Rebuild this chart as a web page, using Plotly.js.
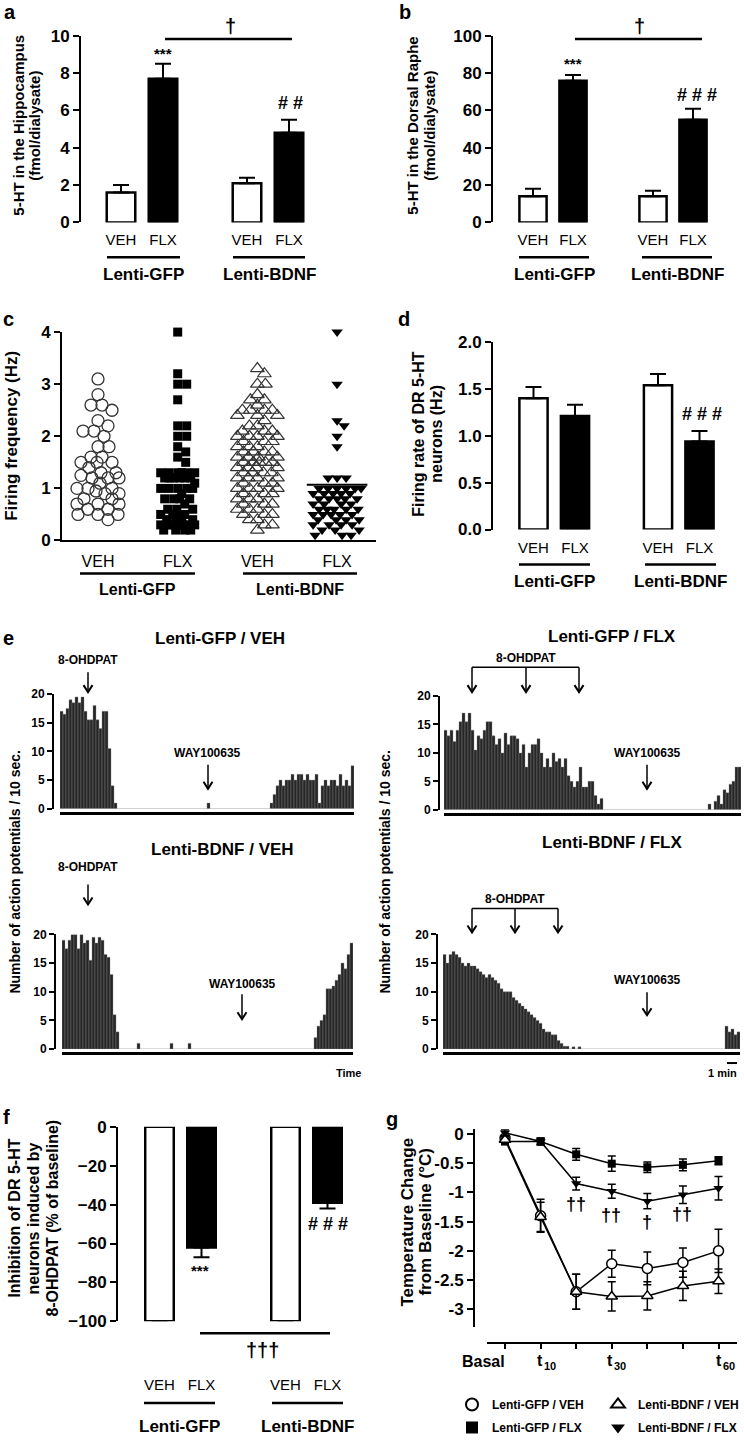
<!DOCTYPE html>
<html><head><meta charset="utf-8">
<script src="https://cdn.plot.ly/plotly-3.0.1.min.js"></script>
<style>html,body{margin:0;padding:0;background:#fff;}#chart{width:744px;height:1442px;}</style>
</head><body><div id="chart"></div>
<script>
// ================= DATA =================
const groupLabels = ['Lenti-GFP', 'Lenti-BDNF'];
const barCategories = ['VEH', 'FLX', 'VEH', 'FLX'];

// (a) 5-HT in hippocampus (fmol/dialysate)
const hippoMean = [1.6, 7.7, 2.1, 4.8];
const hippoSem = [0.4, 0.8, 0.3, 0.7];

// (b) 5-HT in dorsal raphe (fmol/dialysate)
const raphMean = [14, 76, 14, 55];
const raphSem = [4, 3, 3, 6];

// (c) firing frequency of individual neurons (Hz)
const cVehGfp = [3.1, 2.8, 2.6, 2.6, 2.5, 2.3, 2.2, 2.1, 2.1, 2.0, 1.8, 1.8, 1.6, 1.6, 1.5, 1.5, 1.5, 1.4, 1.3, 1.3, 1.25, 1.2, 1.2, 1.2, 1.1, 1.0, 1.0, 1.0, 0.95, 0.9, 0.9, 0.8, 0.8, 0.7, 0.7, 0.7, 0.6, 0.6, 0.5, 0.5, 0.5, 0.4];
const cFlxGfp = [4.0, 3.2, 3.0, 3.0, 2.7, 2.2, 2.2, 2.0, 2.0, 1.8, 1.7, 1.6, 1.5, 1.3, 1.3, 1.3, 1.3, 1.3, 1.3, 1.2, 1.2, 1.2, 1.2, 1.2, 1.2, 1.1, 1.0, 1.0, 1.0, 1.0, 1.0, 0.9, 0.8, 0.8, 0.8, 0.8, 0.7, 0.6, 0.6, 0.6, 0.5, 0.5, 0.5, 0.5, 0.4, 0.4, 0.4, 0.4, 0.3, 0.3, 0.3, 0.3, 0.3, 0.3, 0.3, 0.2, 0.2, 0.2, 0.2];
const cVehBdnf = [3.3, 3.2, 3.0, 3.0, 2.8, 2.7, 2.7, 2.6, 2.5, 2.5, 2.5, 2.5, 2.4, 2.4, 2.4, 2.3, 2.2, 2.2, 2.1, 2.1, 2.1, 2.0, 2.0, 2.0, 2.0, 1.9, 1.9, 1.9, 1.8, 1.8, 1.8, 1.7, 1.7, 1.7, 1.7, 1.6, 1.6, 1.6, 1.6, 1.5, 1.5, 1.5, 1.5, 1.5, 1.4, 1.4, 1.4, 1.4, 1.3, 1.3, 1.3, 1.3, 1.2, 1.2, 1.2, 1.2, 1.1, 1.1, 1.1, 1.0, 1.0, 1.0, 1.0, 0.9, 0.9, 0.9, 0.8, 0.8, 0.8, 0.7, 0.7, 0.7, 0.6, 0.6, 0.6, 0.5, 0.5, 0.5, 0.4, 0.4, 0.3, 0.3, 0.2];
const cFlxBdnf = [4.0, 3.0, 2.3, 2.2, 2.0, 1.8, 1.2, 1.2, 1.2, 1.0, 1.0, 1.0, 1.0, 1.0, 1.0, 0.9, 0.9, 0.9, 0.9, 0.9, 0.8, 0.8, 0.8, 0.8, 0.8, 0.7, 0.7, 0.7, 0.7, 0.6, 0.6, 0.6, 0.6, 0.6, 0.5, 0.5, 0.5, 0.5, 0.5, 0.4, 0.4, 0.4, 0.4, 0.3, 0.3, 0.3, 0.3, 0.2, 0.2, 0.2, 0.1, 0.1, 0.1];
const cFlxBdnfLine = 1.07;

// (d) firing rate of DR 5-HT neurons (Hz)
const rateMean = [1.40, 1.21, 1.54, 0.94];
const rateSem = [0.12, 0.12, 0.12, 0.11];

// (e) action potentials per 10-s bin
const histTitles = ['Lenti-GFP / VEH', 'Lenti-GFP / FLX', 'Lenti-BDNF / VEH', 'Lenti-BDNF / FLX'];
const histGfpVeh = [17, 16.5, 17.5, 19, 18.5, 19.5, 18.5, 19.5, 17, 15.5, 15.5, 18, 15.5, 14, 17, 17, 10.5, 4, 1,
  0, 0, 0, 0, 0, 0, 0, 0, 0, 0, 0, 0, 0, 0, 0, 0, 0, 0, 0, 0, 0, 0, 0, 0, 0, 0, 0, 0, 0, 0,
  1,
  0, 0, 0, 0, 0, 0, 0, 0, 0, 0, 0, 0, 0, 0, 0, 0, 0, 0, 0, 0,
  1, 2.5, 4, 5, 4, 5, 5, 6, 5, 6, 6, 5, 6, 5, 5, 6, 1, 4, 5, 4, 5, 5, 4, 6, 4, 5, 4, 7.5];
const histGfpFlx = [14, 13, 14, 12, 14, 15.5, 17, 15.5, 17, 14, 10.5, 13, 12.5, 14, 15.5, 15.5, 13, 11.5, 12.5, 10,
  13.5, 11.5, 13, 13, 12.5, 10, 11.5, 7.5, 10, 11.5, 11.5, 12.5, 10, 7.5, 9, 7.5, 10, 8.5, 9, 7.5,
  9, 6, 5, 4, 5, 7.5, 4, 4, 5, 5, 2.5, 1, 2,
  0, 0, 0, 0, 0, 0, 0, 0, 0, 0, 0, 0, 0, 0, 0, 0, 0, 0, 0, 0, 0, 0, 0, 0, 0, 0, 0, 0, 0, 0, 0, 0, 0, 0, 0,
  1, 0, 1.5, 2.5, 1, 3.5, 3, 4.5, 5, 7.5, 7.5];
const histBdnfVeh = [19, 17.5, 19, 20, 20, 17.5, 20, 18.5, 19, 15.5, 19.5, 18.5, 19.5, 19, 16.5, 16, 13, 6, 3,
  0, 0, 0, 0, 0, 0, 1, 0, 0, 0, 0, 0, 0, 0, 0, 0, 0, 1, 0, 0, 0, 0, 0, 1,
  0, 0, 0, 0, 0, 0, 0, 0, 0, 0, 0, 0, 0, 0, 0, 0, 0, 0, 0, 0, 0, 0, 0, 0, 0, 0, 0, 0, 0, 0, 0, 0, 0, 0, 0, 0, 0, 0, 0, 0, 0,
  2, 4, 5, 6, 10.5, 10.5, 11, 12, 13, 15, 14, 16.5, 18.5];
const histBdnfFlx = [16.5, 15, 16.5, 17, 16.5, 16, 15, 14.5, 15, 14.5, 14.5, 14, 13.5, 13, 12.5, 13, 12.5, 12, 11.5, 10.5,
  10, 10, 10, 9, 8.5, 8, 7.5, 7, 6.5, 6, 5.5, 5, 4.5, 3.5, 3, 3, 2.5, 2.5, 1.5, 1, 0.5, 0.5,
  0, 0.4, 0, 0.4,
  0, 0, 0, 0, 0, 0, 0, 0, 0, 0, 0, 0, 0, 0, 0, 0, 0, 0, 0, 0, 0, 0, 0, 0, 0, 0, 0, 0, 0, 0, 0, 0, 0, 0, 0, 0, 0, 0, 0, 0, 0, 0, 0, 0, 0, 0, 0, 0,
  4, 3, 3.5, 2.5, 3];

// (f) inhibition induced by 8-OHDPAT (% of baseline)
const inhibMean = [-100, -62, -100, -39];
const inhibSem = [0, 5, 0, 3];

// (g) temperature change from baseline (°C)
const gTime = [0, 10, 20, 30, 40, 50, 60];
const gTimeSubs = ['10', '30', '60'];
const gNames = ['Lenti-GFP / VEH', 'Lenti-GFP / FLX', 'Lenti-BDNF / VEH', 'Lenti-BDNF / FLX'];
const gGfpVeh = [-0.07, -1.4, -2.7, -2.22, -2.3, -2.2, -2.0];
const gGfpVehErr = [0.05, 0.28, 0.3, 0.23, 0.28, 0.25, 0.37];
const gGfpFlx = [-0.13, -0.13, -0.35, -0.51, -0.57, -0.53, -0.46];
const gGfpFlxErr = [0.05, 0.06, 0.1, 0.13, 0.09, 0.1, 0.07];
const gBdnfVeh = [-0.1, -1.42, -2.7, -2.78, -2.77, -2.6, -2.52];
const gBdnfVehErr = [0.05, 0.25, 0.3, 0.25, 0.24, 0.25, 0.21];
const gBdnfFlx = [0.02, -0.13, -0.85, -0.98, -1.15, -1.04, -0.93];
const gBdnfFlxErr = [0.05, 0.05, 0.11, 0.12, 0.13, 0.15, 0.2];

// ================= LAYOUT HELPERS =================
const W = 744, H = 1442;
const FF = 'Arial, "Liberation Sans", Helvetica, sans-serif';
const PX = p => p / W, PY = p => 1 - p / H;
function dom(v0, p0, v1, p1, r0, r1, isY) {
  const s = (p1 - p0) / (v1 - v0);
  const a = p0 + (r0 - v0) * s, b = p0 + (r1 - v0) * s;
  const lo = Math.min(a, b), hi = Math.max(a, b);
  return isY ? [1 - hi / H, 1 - lo / H] : [lo / W, hi / W];
}
const bold = s => ({family: FF, size: s, color: '#000', weight: 'bold'});
const reg = s => ({family: FF, size: s, color: '#000'});
const barPos = [0, 1, 3, 4];
const barFills = ['#ffffff', '#000000', '#ffffff', '#000000'];

const layout = {width: W, height: H, margin: {l: 0, r: 0, t: 0, b: 0}, paper_bgcolor: '#fff',
  plot_bgcolor: 'rgba(0,0,0,0)', bargap: 0, showlegend: true, annotations: [], shapes: [],
  font: {family: FF, color: '#000'}, hovermode: false};
const traces = [];
const sfx = n => n === 1 ? '' : String(n);

function yAxis(range, v0, p0, v1, p1, posX, dtick, fs, extra) {
  return Object.assign({range, domain: dom(v0, p0, v1, p1, range[0], range[1], true), anchor: 'free',
    position: PX(posX), showline: true, linewidth: 2, linecolor: '#000', ticks: 'outside', ticklen: 6,
    tickwidth: 2, tickcolor: '#000', dtick, tick0: 0, showgrid: false, zeroline: false,
    tickfont: bold(fs), fixedrange: true}, extra || {});
}
function catXAxis(p0, p1, labelPos, fs) {
  return {range: [-1, 5], domain: dom(0, p0, 1, p1, -1, 5, false), anchor: 'free', position: PY(labelPos),
    showline: false, zeroline: false, showgrid: false, tickmode: 'array', tickvals: barPos,
    ticktext: barCategories, ticks: '', tickfont: reg(fs), fixedrange: true};
}
function hline(x0, x1, y, w) {
  return {type: 'line', xref: 'paper', yref: 'paper', x0: PX(x0), x1: PX(x1), y0: PY(y), y1: PY(y),
    line: {color: '#000', width: w || 2.5}};
}
function ann(text, x, y, size, opts) {
  return Object.assign({text, x: PX(x), y: PY(y), xref: 'paper', yref: 'paper', showarrow: false,
    xanchor: 'center', yanchor: 'middle', font: bold(size)}, opts || {});
}
// rotated multi-line title: one annotation per line
function vtitle(lines, xs, y, size) {
  lines.forEach((t, i) => layout.annotations.push(ann(t, xs[i], y, size, {textangle: -90})));
}
// down-pointing arrow drawn as a stem plus an open chevron head
function arrow(x, yTail, yTip) {
  const head = 'M' + PX(x - 4.5) + ',' + PY(yTip - 7) + ' L' + PX(x) + ',' + PY(yTip) + ' L' + PX(x + 4.5) + ',' + PY(yTip - 7);
  layout.shapes.push(
    {type: 'line', xref: 'paper', yref: 'paper', x0: PX(x), x1: PX(x), y0: PY(yTail), y1: PY(yTip), line: {color: '#000', width: 1.5}},
    {type: 'path', xref: 'paper', yref: 'paper', path: head, line: {color: '#000', width: 2}}
  );
}
function groups(x1a, x1b, x2a, x2b, yLine, yText, fs) {
  layout.shapes.push(hline(x1a, x1b, yLine), hline(x2a, x2b, yLine));
  layout.annotations.push(ann(groupLabels[0], (x1a + x1b) / 2, yText, fs), ann(groupLabels[1], (x2a + x2b) / 2, yText, fs));
}
function barPanel(n, vals, sem, down, yax, xax) {
  layout['xaxis' + sfx(n)] = xax;
  layout['yaxis' + sfx(n)] = yax;
  const zeros = vals.map(() => 0);
  traces.push({type: 'bar', x: barPos, y: vals, xaxis: 'x' + sfx(n), yaxis: 'y' + sfx(n), width: 0.68,
    marker: {color: barFills, line: {color: '#000', width: 2.5}},
    error_y: {type: 'data', symmetric: false, array: down ? zeros : sem, arrayminus: down ? sem : zeros,
      color: '#000', thickness: 2, width: 8},
    showlegend: false, hoverinfo: 'skip', cliponaxis: false});
}

// ================= (a) =================
barPanel(1, hippoMean, hippoSem, false, yAxis([0, 10], 0, 223, 10, 36, 80, 2, 17), catXAxis(121, 163, 230, 15));
layout.annotations.push(ann('a', 10, 12, 20), ann('***', 163, 54, 15), ann('# #', 290, 103, 18), ann('†', 230, 26, 20));
vtitle(['5-HT in the Hippocampus', '(fmol/dialysate)'], [19, 35], 126, 15);
layout.shapes.push(hline(165, 292, 39));
groups(107, 180, 233, 305, 258, 275, 17);

// ================= (b) =================
barPanel(2, raphMean, raphSem, false, yAxis([0, 100], 0, 223, 100, 36, 492, 20, 17), catXAxis(533, 573, 230, 15));
layout.annotations.push(ann('b', 405, 12, 20), ann('***', 573, 64, 15), ann('# # #', 697, 95, 18), ann('†', 639, 26, 20));
vtitle(['5-HT in the Dorsal Raphe', '(fmol/dialysate)'], [413, 430], 126, 15);
layout.shapes.push(hline(575, 702, 39));
groups(519, 589, 642, 712, 258, 275, 17);

// ================= (c) =================
const cPxPerY = (542 - 333) / 4, cPxPerX = 79.7;
layout.xaxis3 = {range: [(62 - 98) / cPxPerX, (376 - 98) / cPxPerX], domain: [PX(62), PX(376)], anchor: 'y3',
  showline: true, linewidth: 2, linecolor: '#000', ticks: 'outside', ticklen: 5, tickcolor: 'rgba(0,0,0,0)',
  tickmode: 'array', tickvals: [0, 1, 2, 3], ticktext: barCategories, tickfont: reg(16), showgrid: false,
  zeroline: false, fixedrange: true};
layout.yaxis3 = yAxis([0, 4], 0, 542, 4, 333, 62, 1, 17);
layout.yaxis3.anchor = 'x3';
delete layout.yaxis3.position;
// simple beeswarm: place each point at the nearest free offset, within a column width
function swarm(vals, center, D, maxHalf) {
  const order = vals.map((v, i) => i).sort((a, b) => vals[b] - vals[a]);
  const placed = [], xs = new Array(vals.length);
  for (const i of order) {
    const py = vals[i] * cPxPerY;
    let best = 0, bestScore = -1;
    for (let k = 0; ; k++) {
      const cand = (k % 2 === 1 ? 1 : -1) * Math.ceil(k / 2);
      if (Math.abs(cand) > maxHalf) break;
      const minD = placed.reduce((m, p) => Math.min(m, Math.hypot(p.x - cand, p.y - py)), Infinity);
      if (minD >= D) { best = cand; break; }
      if (minD > bestScore) { bestScore = minD; best = cand; }
    }
    placed.push({x: best, y: py});
    xs[i] = center + best / cPxPerX;
  }
  return xs;
}
const cSets = [
  {v: cVehGfp, c: 0, D: 11, half: 21, m: {symbol: 'circle-open', size: 12, color: '#333', line: {width: 1.3}}},
  {v: cFlxGfp, c: 1, D: 9, half: 17, m: {symbol: 'square', size: 9, color: '#000'}},
  {v: cVehBdnf, c: 2, D: 8, half: 20, m: {symbol: 'triangle-up-open', size: 12, color: '#333', line: {width: 1.2}}},
  {v: cFlxBdnf, c: 3, D: 8.5, half: 24, m: {symbol: 'triangle-down', size: 10, color: '#000'}}
];
cSets.forEach(s => traces.push({type: 'scatter', mode: 'markers', x: swarm(s.v, s.c, s.D, s.half), y: s.v,
  xaxis: 'x3', yaxis: 'y3', marker: s.m, showlegend: false, hoverinfo: 'skip', cliponaxis: false}));
traces.push({type: 'scatter', mode: 'lines', x: [2.62, 3.38], y: [cFlxBdnfLine, cFlxBdnfLine], xaxis: 'x3', yaxis: 'y3',
  line: {color: '#000', width: 2}, showlegend: false, hoverinfo: 'skip'});
layout.annotations.push(ann('c', 8, 320, 20), ann('Firing frequency (Hz)', 12, 437, 17, {textangle: -90}));
groups(80, 195, 243, 357, 575, 591, 16);

// ================= (d) =================
barPanel(4, rateMean, rateSem, false, yAxis([0, 2], 0, 531, 2, 343, 492, 0.5, 17, {tickformat: '.1f'}), catXAxis(533.5, 575, 538, 15));
layout.annotations.push(ann('d', 404, 320, 20), ann('# # #', 702, 415, 18));
vtitle(['Firing rate of DR 5-HT', 'neurons (Hz)'], [419, 437], 435, 16);
groups(519, 590, 645, 716, 566, 583, 17);

// ================= (e) =================
function histPanel(n, vals, yZero, yTop, posX, xStartPx, baseY) {
  const idx = vals.map((_, i) => i);
  const r = [-0.5, vals.length - 0.5];
  layout['xaxis' + n] = {range: r, domain: dom(0, xStartPx + 1.5, 1, xStartPx + 4.5, r[0], r[1], false),
    anchor: 'free', position: PY(baseY), showline: true, linewidth: 3, linecolor: '#000', ticks: '',
    showticklabels: false, showgrid: false, zeroline: false, fixedrange: true};
  layout['yaxis' + n] = yAxis([0, 20], 0, yZero, 20, yTop, posX, 5, 12, {ticklen: 5});
  traces.push({type: 'bar', x: idx, y: vals, xaxis: 'x' + n, yaxis: 'y' + n, width: 1,
    marker: {color: '#262626', line: {color: '#8a8a8a', width: 0.4}}, showlegend: false, hoverinfo: 'skip'});
}
histPanel(5, histGfpVeh, 811, 696, 53, 60, 815);
histPanel(6, histGfpFlx, 812, 698, 439, 444, 816);
histPanel(7, histBdnfVeh, 1052, 937, 55, 62, 1056);
histPanel(8, histBdnfFlx, 1052, 937, 437, 443, 1056);
layout.annotations.push(
  ann('e', 8, 640, 20),
  ann(histTitles[0], 220, 640, 17), ann(histTitles[1], 612, 638, 17),
  ann(histTitles[2], 222, 852, 17), ann(histTitles[3], 612, 845, 17),
  ann('8-OHDPAT', 88, 662, 12), ann('8-OHDPAT', 88, 869, 12),
  ann('8-OHDPAT', 526, 660, 12), ann('8-OHDPAT', 515, 901, 12),
  ann('WAY100635', 208, 755, 12), ann('WAY100635', 647, 755, 12),
  ann('WAY100635', 242, 987, 12), ann('WAY100635', 647, 983, 12),
  ann('Number of action potentials / 10 sec.', 15, 874, 14, {textangle: -90}),
  ann('Number of action potentials / 10 sec.', 385, 874, 14, {textangle: -90}),
  ann('Time', 348, 1076, 11), ann('1 min', 722, 1076, 11)
);
arrow(88, 674, 694); arrow(88, 887, 907);
arrow(472, 669, 694); arrow(526, 669, 694); arrow(579, 669, 694);
arrow(472, 911, 935); arrow(515, 911, 935); arrow(558, 911, 935);
arrow(208, 767, 791); arrow(647, 767, 791); arrow(242, 997, 1022); arrow(647, 995, 1018);
layout.shapes.push(hline(472, 579, 669, 1.5), hline(472, 558, 911, 1.5), hline(727, 737, 1066, 2));

// ================= (f) =================
barPanel(9, inhibMean, inhibSem, true, yAxis([-100, 0], 0, 1130, -100, 1325, 117, 20, 17), catXAxis(159.5, 201.5, 1378, 15));
layout.annotations.push(ann('f', 6, 1120, 20),
  ann('***', 200, 1274, 15), ann('# # #', 328, 1227, 18), ann('†††', 262, 1354, 20));
vtitle(['Inhibition of DR 5-HT', 'neurons induced by', '8-OHDPAT (% of baseline)'], [15, 34, 53], 1222, 16);
layout.shapes.push(hline(200, 330, 1337));
groups(144, 215, 272, 343, 1407, 1430, 17);

// ================= (g) =================
layout.xaxis10 = {range: [-5.06, 65.2], domain: [PX(487), PX(737)], anchor: 'free', position: PY(1347),
  showline: true, linewidth: 2, linecolor: '#000', ticks: 'outside', ticklen: 5, tickwidth: 2, tickcolor: '#000',
  tickmode: 'array', tickvals: gTime, showticklabels: false, showgrid: false, zeroline: false, fixedrange: true};
layout.yaxis10 = yAxis([-3.3, 0.08], 0, 1137, -3, 1313, 474, 0.5, 17,
  {tickmode: 'array', tickvals: [0, -0.5, -1, -1.5, -2, -2.5, -3], ticktext: ['0', '-0.5', '-1', '-1.5', '-2', '-2.5', '-3']});
const gSeries = [
  {y: gGfpVeh, e: gGfpVehErr, m: {symbol: 'circle', size: 10, color: '#fff', line: {color: '#000', width: 1.5}}, lg: 'legend'},
  {y: gGfpFlx, e: gGfpFlxErr, m: {symbol: 'square', size: 8, color: '#000'}, lg: 'legend'},
  {y: gBdnfVeh, e: gBdnfVehErr, m: {symbol: 'triangle-up', size: 10, color: '#fff', line: {color: '#000', width: 1.5}}, lg: 'legend2'},
  {y: gBdnfFlx, e: gBdnfFlxErr, m: {symbol: 'triangle-down', size: 9, color: '#000'}, lg: 'legend2'}
];
gSeries.forEach(s => traces.push({type: 'scatter', mode: 'lines', x: gTime, y: s.y, xaxis: 'x10', yaxis: 'y10',
  line: {color: '#000', width: 1.5}, showlegend: false, hoverinfo: 'skip'}));
gSeries.forEach((s, i) => traces.push({type: 'scatter', mode: 'markers', name: gNames[i], x: gTime, y: s.y,
  xaxis: 'x10', yaxis: 'y10', marker: s.m, legend: s.lg, legendgroup: 'g' + i,
  error_y: {type: 'data', array: s.e, color: '#000', thickness: 1.5, width: 4},
  showlegend: true, hoverinfo: 'skip', cliponaxis: false}));
const legendBase = {xanchor: 'left', yanchor: 'top', font: bold(12), bgcolor: 'rgba(0,0,0,0)',
  itemsizing: 'constant', tracegroupgap: 4, itemclick: false, itemdoubleclick: false};
layout.legend = Object.assign({x: PX(452), y: PY(1394)}, legendBase);
layout.legend2 = Object.assign({x: PX(598), y: PY(1394)}, legendBase);
layout.annotations.push(ann('g', 392, 1122, 20),
  ann('††', 576, 1207, 18), ann('††', 611, 1218, 18), ann('†', 647, 1225, 18), ann('††', 682, 1217, 18),
  ann('Basal', 483, 1365, 16),
  ann('t', 540, 1364, 16), ann(gTimeSubs[0], 550, 1370, 11),
  ann('t', 610, 1364, 16), ann(gTimeSubs[1], 620, 1370, 11),
  ann('t', 719, 1364, 16), ann(gTimeSubs[2], 729, 1370, 11));
vtitle(['Temperature Change', 'from Baseline (°C)'], [408, 426], 1225, 17);

Plotly.newPlot('chart', traces, layout, {staticPlot: true, displayModeBar: false});
</script></body></html>
